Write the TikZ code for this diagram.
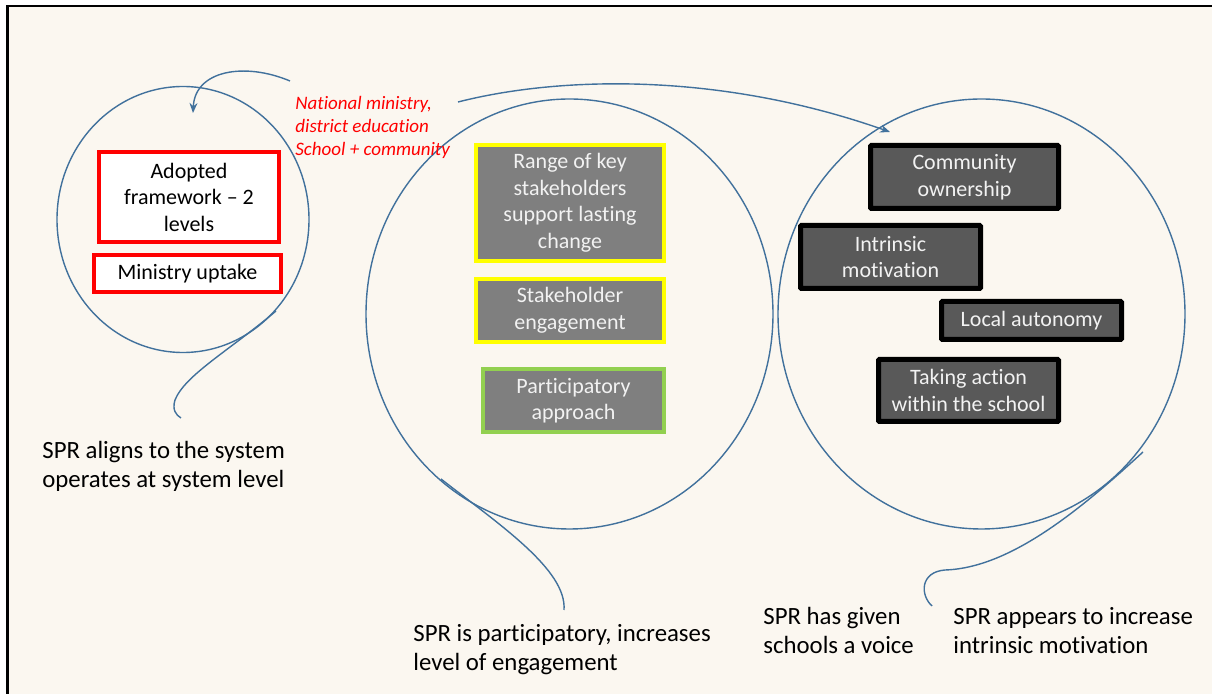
\documentclass[tikz,border=0pt]{standalone}
\usepackage{fontspec}
\setmainfont{Carlito}[Ligatures={TeX,CommonOff}]
\usetikzlibrary{arrows.meta}
\definecolor{bgc}{RGB}{251,247,240}
\definecolor{lnc}{RGB}{65,113,156}
\definecolor{gyc}{RGB}{127,127,127}
\definecolor{dgc}{RGB}{89,89,89}
\definecolor{ylc}{RGB}{255,255,0}
\definecolor{grc}{RGB}{146,208,80}
\definecolor{txc}{RGB}{242,242,242}
\tikzset{
    BX/.style ={rectangle, inner sep=1pt, align=center, font=\fontsize{11}{13.25}\selectfont, minimum width=#1},
    RB/.style ={BX=90pt, draw=red, line width=2pt, fill=white, text=black},
    YB/.style ={BX=94pt, draw=ylc, line width=2.3pt, fill=gyc, text=txc},
    GB/.style ={BX=90.5pt, draw=grc, line width=2.3pt, fill=gyc, text=txc},
    KB/.style ={BX=90pt, draw=black, line width=2.5pt, fill=dgc, text=txc, rounded corners=0.5pt},
    CI/.style ={draw=lnc, line width=0.7pt},
    AR/.style ={CI, -{Stealth[length=5pt,width=4pt]}},
    LB/.style ={anchor=base west, align=left, inner sep=0pt, font=\fontsize{12.4}{14.5}\selectfont}}

\begin{document}
\begin{tikzpicture}[x=0.5pt,y=-0.5pt]
        \useasboundingbox (0,0) rectangle (1212,694);
        \fill[white] (0,0) rectangle (1212,694);
        \fill[bgc] (7,6) rectangle (1212,694);
        \draw[line width=1.3pt] (7.5,694) |- (1212,6.2);
        % three circles
        \draw[CI] (183,219.5) ellipse [x radius=126, y radius=133];
        \draw[CI] (569.5,314) ellipse [x radius=203.5, y radius=215];
        \draw[CI] (981.5,314) ellipse [x radius=203.5, y radius=215];
        % callout tails
        \draw[CI] (276,311) .. controls (230,350) and (185,375) .. (175,400) .. controls (172,410) and (176,415) .. (181,418);
        \draw[CI] (441,479) .. controls (500,525) and (567,570) .. (564,610);
        \draw[CI] (1143,452) .. controls (1080,510) and (1010,568) .. (945,570) .. controls (920,572) and (920,595) .. (932,606);
        % boxes
        \node[RB, minimum height=45pt] (afw) at (189,197) {Adopted\\framework -- 2\\levels};
        \node[RB, minimum width=93.5pt, minimum height=18.5pt] (mup) at (187.5,273.5) {Ministry uptake};
        \node[YB, minimum height=58pt] (rks) at (570,203) {Range of key\\stakeholders\\support lasting\\change};
        \node[YB, minimum height=31.5pt] (sen) at (570,310.5) {Stakeholder\\engagement};
        \node[GB, minimum height=31.5pt] (pap) at (573.5,400.5) {Participatory\\approach};
        \node[KB, minimum width=94pt, minimum height=31.5pt] (cow) at (964.5,177) {Community\\ownership};
        \node[KB, minimum height=31.5pt] (imo) at (890.5,257) {Intrinsic\\motivation};
        \node[KB, minimum height=19pt] (lau) at (1031.5,320.5) {Local autonomy};
        \node[KB, minimum height=31pt] (tak) at (968.5,390.5) {Taking action\\within the school};
        % levels
        \node[anchor=base west, align=left, inner sep=0pt, text=red, font=\fontsize{9.5}{11.5}\selectfont\itshape] (lvl) at (295,156) {National ministry,\\district education\\School + community};
        \coordinate (a1s) at (290,81);
        \coordinate (a1e) at (193,113);
        \coordinate (a2s) at (458,102);
        \coordinate (a2e) at (890,132);
        \draw[AR] (a1s) .. controls (245,62) and (195,70) .. (a1e);
        \draw[AR] (a2s) .. controls (560,76) and (720,72) .. (a2e);
        % findings
        \node[LB] (sal) at (42,488) {SPR aligns to the system\\operates at system level};
        \node[LB] (spa) at (413,671) {SPR is participatory, increases\\level of engagement};
        \node[LB] (sgv) at (763,654) {SPR has given\\schools a voice};
        \node[LB] (sim) at (953,654) {SPR appears to increase\\intrinsic motivation};
    \end{tikzpicture}
\end{document}
